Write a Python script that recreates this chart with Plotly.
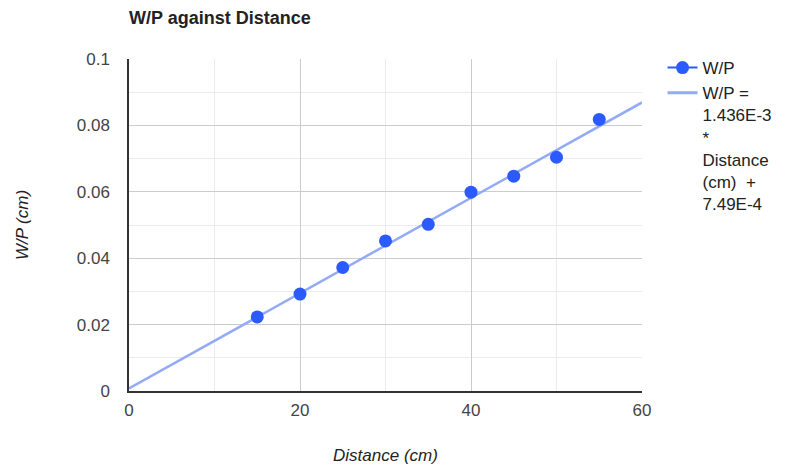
import plotly.graph_objects as go

# Measured W/P ratio at each distance
distance_cm = [15, 20, 25, 30, 35, 40, 45, 50, 55]
wp_cm = [0.0223, 0.0292, 0.0372, 0.0452, 0.0502, 0.0599, 0.0647, 0.0704, 0.0818]

# Linear trendline: W/P = slope * Distance + intercept
slope = 1.436e-3
intercept = 7.49e-4
trend_x = [0, 60]
trend_y = [slope * x + intercept for x in trend_x]

x_ticks = [0, 20, 40, 60]
y_ticks = [0, 0.02, 0.04, 0.06, 0.08, 0.1]

font_family = "Liberation Sans, Arial, sans-serif"
point_color = "#2b5bff"
trend_color = "#93aaf7"

fig = go.Figure()

fig.add_trace(go.Scatter(
    x=trend_x, y=trend_y, mode="lines",
    line=dict(color=trend_color, width=2.5),
    showlegend=False, hoverinfo="skip",
))
fig.add_trace(go.Scatter(
    x=distance_cm, y=wp_cm, mode="markers",
    marker=dict(color=point_color, size=13),
    name="W/P", showlegend=False,
))
# legend entries (symbol drawn as line + marker, like the chart's key)
fig.add_trace(go.Scatter(
    x=[None], y=[None], mode="lines+markers",
    marker=dict(color=point_color, size=13),
    line=dict(color=point_color, width=2),
    name="W/P",
))
fig.add_trace(go.Scatter(
    x=[None], y=[None], mode="lines",
    line=dict(color=trend_color, width=3),
    name="W/P =<br>1.436E-3<br>*<br>Distance<br>(cm)\u00a0 +<br>7.49E-4",
))

fig.update_layout(
    width=792, height=468,
    margin=dict(l=129, r=150, t=59, b=77),
    paper_bgcolor="white", plot_bgcolor="white",
    font=dict(family=font_family, size=17, color="#444444"),
    title=dict(
        text="<b>W/P against Distance</b>",
        font=dict(family=font_family, size=18, color="#222222"),
        x=0, xref="paper", xanchor="left",
        y=1 - 18 / 468, yref="container", yanchor="middle",
    ),
    showlegend=True,
    legend=dict(
        x=1.040, xanchor="left", y=1.027, yanchor="top",
        font=dict(family=font_family, size=17, color="#222222"),
        valign="top", tracegroupgap=0, itemwidth=30,
        bgcolor="rgba(0,0,0,0)",
    ),
    xaxis=dict(
        range=[0, 60], tickvals=x_ticks, showgrid=True,
        gridcolor="#cccccc", gridwidth=1,
        minor=dict(dtick=10, showgrid=True, gridcolor="#ebebeb", gridwidth=1),
        zeroline=False, showline=True, linecolor="#333333", linewidth=1.5,
        ticks="", ticklabelstandoff=3, automargin=False,
        title=dict(text="<i>Distance (cm)</i>", standoff=30,
                   font=dict(family=font_family, size=17, color="#222222")),
        fixedrange=True,
    ),
    yaxis=dict(
        range=[0, 0.1], tickvals=y_ticks, showgrid=True,
        gridcolor="#cccccc", gridwidth=1,
        minor=dict(dtick=0.01, showgrid=True, gridcolor="#ebebeb", gridwidth=1),
        zeroline=False, showline=True, linecolor="#333333", linewidth=1.5,
        ticks="", ticklabelstandoff=14, automargin=False,
        title=dict(text="<i>W/P (cm)</i>", standoff=44,
                   font=dict(family=font_family, size=17, color="#222222")),
        fixedrange=True,
    ),
)

fig.write_html("out.html")
